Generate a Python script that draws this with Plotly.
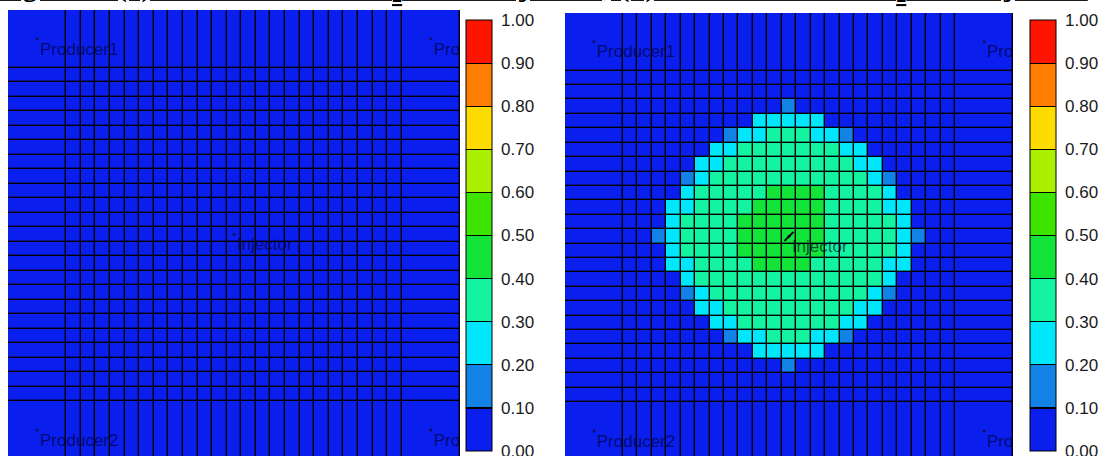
import plotly.graph_objects as go

# ---------------- data ----------------
# cell edges of the simulation grid (grid units); outer blocks are 4 units wide
GRID_EDGES = [0, 4, 5, 6, 7, 8, 9, 10, 11, 12, 13, 14, 15, 16, 17, 18, 19, 20,
              21, 22, 23, 24, 25, 26, 27, 31]

# colour-band read for every cell (row = grid row from top, char = grid column);
# band k means CO2 saturation in [k/10, (k+1)/10)
BEFORE_ROWS = [
    "0000000000000000000000000",
    "0000000000000000000000000",
    "0000000000000000000000000",
    "0000000000000000000000000",
    "0000000000000000000000000",
    "0000000000000000000000000",
    "0000000000000000000000000",
    "0000000000000000000000000",
    "0000000000000000000000000",
    "0000000000000000000000000",
    "0000000000000000000000000",
    "0000000000000000000000000",
    "0000000000000000000000000",
    "0000000000000000000000000",
    "0000000000000000000000000",
    "0000000000000000000000000",
    "0000000000000000000000000",
    "0000000000000000000000000",
    "0000000000000000000000000",
    "0000000000000000000000000",
    "0000000000000000000000000",
    "0000000000000000000000000",
    "0000000000000000000000000",
    "0000000000000000000000000",
    "0000000000000000000000000",
]

AFTER_ROWS = [
    "0000000000000000000000000",
    "0000000000000000000000000",
    "0000000000000000000000000",
    "0000000000001000000000000",
    "0000000000222220000000000",
    "0000000012233322100000000",
    "0000000223333333220000000",
    "0000002233333333322000000",
    "0000012333333333332100000",
    "0000023333344443333200000",
    "0000223333444443333220000",
    "0000233334444443333320000",
    "0001233334444443333321000",
    "0000233334444443333320000",
    "0000223333444433333220000",
    "0000023333333333333200000",
    "0000012333333333332100000",
    "0000002233333333322000000",
    "0000000223333333220000000",
    "0000000012233322100000000",
    "0000000000222220000000000",
    "0000000000001000000000000",
    "0000000000000000000000000",
    "0000000000000000000000000",
    "0000000000000000000000000",
]

BAND_COLORS = ["#0A1EEE", "#1282E6", "#00E6FA", "#14F4A0", "#12E43A",
               "#3CE400", "#AAF000", "#FFDC00", "#FF7D00", "#FF1400"]
CBAR_TICKS = [0.0, 0.1, 0.2, 0.3, 0.4, 0.5, 0.6, 0.7, 0.8, 0.9, 1.0]
CBAR_LABELS = ["0.00", "0.10", "0.20", "0.30", "0.40", "0.50",
               "0.60", "0.70", "0.80", "0.90", "1.00"]

WELL_NAMES = ["Producer1", "Producer3", "Producer2", "Producer4", "Injector"]
WELL_X = [2, 29, 2, 29, 15.5]
WELL_Y = [2, 2, 29, 29, 15.5]

TITLE = ("Figure 3: (a) Distribution of CO<sub>2</sub> before injection; "
         "(b) Distribution of CO<sub>2</sub> after injection")


def to_values(rows):
    return [[(int(c) + 0.5) / 10 for c in r] for r in rows]


colorscale = []
for i, c in enumerate(BAND_COLORS):
    colorscale.append([i / 10, c])
    colorscale.append([(i + 1) / 10, c])

W, H = 1107, 456


def cbar(x_px):
    return dict(
        x=x_px / W, xanchor="left", xpad=0,
        y=1 - 20 / H, yanchor="top", ypad=0,
        len=431, lenmode="pixels", thickness=26,
        outlinecolor="black", outlinewidth=1,
        tickmode="array", tickvals=CBAR_TICKS,
        ticktext=["\u00a0" + t for t in CBAR_LABELS],
        ticklabeloverflow="allow",
        ticks="inside", ticklen=26, tickwidth=1.2, tickcolor="black",
        tickfont=dict(family="Liberation Sans, Arial", size=17, color="#1a1a1a"),
    )


fig = go.Figure()

for k, (rows, cx) in enumerate([(BEFORE_ROWS, 466), (AFTER_ROWS, 1030)]):
    fig.add_trace(go.Heatmap(
        z=to_values(rows), x=GRID_EDGES, y=GRID_EDGES,
        zmin=0, zmax=1, colorscale=colorscale,
        xgap=1.4, ygap=1.4, colorbar=cbar(cx),
        xaxis="x" if k == 0 else "x2", yaxis="y" if k == 0 else "y2",
        hoverinfo="skip",
    ))
    fig.add_trace(go.Scatter(
        x=WELL_X, y=WELL_Y, text=WELL_NAMES, mode="markers+text",
        textposition="bottom right",
        marker=dict(size=3, color="#10105a"),
        textfont=dict(family="Liberation Sans, Arial", size=17,
                      color="rgba(0,0,45,0.66)"),
        cliponaxis=True, showlegend=False, hoverinfo="skip",
        xaxis="x" if k == 0 else "x2", yaxis="y" if k == 0 else "y2",
    ))

# small injection arrow on the right map
fig.add_trace(go.Scatter(
    x=[WELL_X[4]], y=[WELL_Y[4]], mode="markers",
    marker=dict(symbol="line-ne", size=9, line=dict(width=2, color="black")),
    showlegend=False, hoverinfo="skip", xaxis="x2", yaxis="y2",
))

ax = dict(showgrid=False, zeroline=False, showticklabels=False, ticks="",
          showline=False, fixedrange=True)

fig.update_layout(
    width=W, height=H,
    margin=dict(l=0, r=0, t=0, b=0, pad=0, autoexpand=False),
    paper_bgcolor="white", plot_bgcolor="black", showlegend=False,
    xaxis=dict(ax, domain=[8 / W, 460 / W], range=[0, 31]),
    yaxis=dict(ax, domain=[0, 1 - 10 / H], range=[30.79, 0]),
    xaxis2=dict(ax, domain=[565 / W, 1013 / W], range=[0, 31]),
    yaxis2=dict(ax, domain=[0, 1 - 13 / H], range=[30.74, 0]),
    annotations=[dict(
        text="<b><u>" + TITLE + "</u></b>", xref="paper", yref="paper",
        x=0.49, y=1, xanchor="center", yanchor="middle", yshift=12,
        showarrow=False,
        font=dict(family="Liberation Serif, Times New Roman", size=29, color="black"),
    )],
)

fig.write_html(
    "out.html",
    config={"displayModeBar": False, "staticPlot": True},
    post_script="document.body.style.margin='0';document.body.style.overflow='hidden';",
)
